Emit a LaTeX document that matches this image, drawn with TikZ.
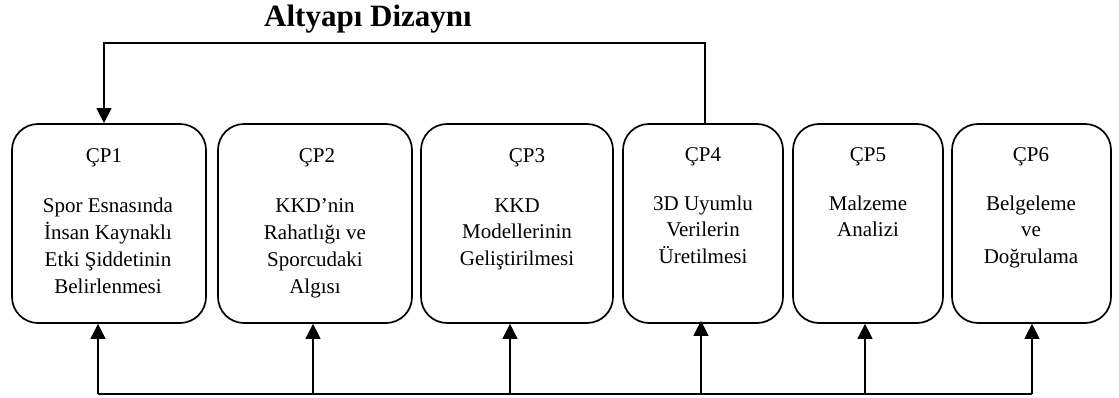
\documentclass[tikz,border=0pt]{standalone}
\usepackage{fontspec}
\setmainfont{Liberation Serif}
\usetikzlibrary{arrows.meta}
\tikzset{
  box/.style={draw, line width=1.7pt, rounded corners=26pt, minimum height=199pt, inner sep=0pt},
  cp/.style={anchor=base, inner sep=0pt, font=\fontsize{21}{26.7}\selectfont},
  body/.style={anchor=base, inner sep=0pt, align=center, font=\fontsize{21}{26.7}\selectfont},
  conn/.style={line width=1.3pt},
  arr/.style={line width=1.3pt, -{Triangle[width=15pt,length=15pt]}},
}
\begin{document}
\begin{tikzpicture}[x=1pt,y=-1pt]
\useasboundingbox (0,0) rectangle (1119,398);
\node[anchor=base, inner sep=0pt, font=\bfseries\fontsize{31}{36}\selectfont] (title) at (368,27) {Altyapı Dizaynı};

\node[box, minimum width=194pt] (b1) at (109,223.5) {};
\node[box, minimum width=194pt] (b2) at (315,223.5) {};
\node[box, minimum width=192pt] (b3) at (517,223.5) {};
\node[box, minimum width=160pt] (b4) at (703,223.5) {};
\node[box, minimum width=150pt] (b5) at (868,223.5) {};
\node[box, minimum width=159pt] (b6) at (1031.5,223.5) {};

\node[cp] (c1) at (104,163) {ÇP1};
\node[cp] (c2) at (317,163) {ÇP2};
\node[cp] (c3) at (527,163) {ÇP3};
\node[cp] (c4) at (703,162) {ÇP4};
\node[cp] (c5) at (868,162) {ÇP5};
\node[cp] (c6) at (1031,162) {ÇP6};

% base anchor of a multi-line node = baseline of its last line
\node[body] (d1) at (108,293) {Spor Esnasında\\İnsan Kaynaklı\\Etki Şiddetinin\\Belirlenmesi};
\node[body] (d2) at (315,293) {KKD’nin\\Rahatlığı ve\\Sporcudaki\\Algısı};
\node[body] (d3) at (517,265.4) {KKD\\Modellerinin\\Geliştirilmesi};
\node[body] (d4) at (703,263.4) {3D Uyumlu\\Verilerin\\Üretilmesi};
\node[body] (d5) at (868,236.7) {Malzeme\\Analizi};
\node[body] (d6) at (1031,263.4) {Belgeleme\\ve\\Doğrulama};

% top feedback connector
\coordinate (tl) at (104,43);
\coordinate (tr) at (705,43);
\draw[arr] (tr |- b4.north) -- (tr) -- (tl) -- (tl |- b1.north);

% bottom bus
\coordinate (r1) at (98,394);
\coordinate (r2) at (313,394);
\coordinate (r3) at (510,394);
\coordinate (r4) at (701,394);
\coordinate (r5) at (865,394);
\coordinate (r6) at (1032,394);
\draw[conn] (r1) -- (r6);
\draw[arr] (r1) -- (r1 |- b1.south);
\draw[arr] (r2) -- (r2 |- b2.south);
\draw[arr] (r3) -- (r3 |- b3.south);
\draw[arr] (r4) -- ([yshift=3pt]r4 |- b4.south);
\draw[arr] (r5) -- (r5 |- b5.south);
\draw[arr] (r6) -- (r6 |- b6.south);
\end{tikzpicture}
\end{document}
